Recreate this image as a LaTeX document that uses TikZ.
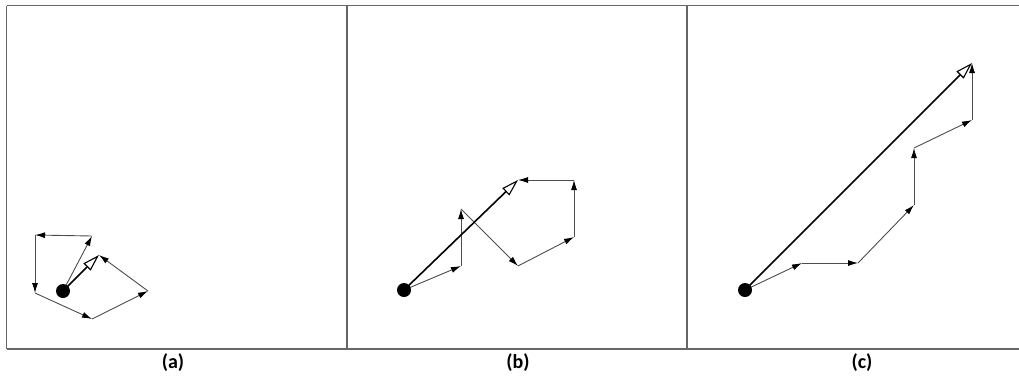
\documentclass[tikz,border=0pt]{standalone}
\usepackage{fontspec}
\setsansfont{Carlito}
\usetikzlibrary{arrows.meta}

\begin{document}
\begin{tikzpicture}[x=1pt,y=-1pt,
  frame/.style={draw=black!60,line width=1.4pt},
  vec/.style={draw=black!70,line width=0.9pt,-{Latex[length=10pt,width=6pt,color=black]}},
  res/.style={draw=black,line width=1.6pt,-{Triangle[length=17pt,width=10pt,fill=white,line width=1.1pt]}},
  dot/.style={circle,fill=black,inner sep=0pt,minimum size=14pt},
  lab/.style={font=\sffamily\bfseries\fontsize{20}{22}\selectfont}]
  \useasboundingbox (0,0) rectangle (1019,376);
  % frames
  \draw[frame] (6.5,5.7)--(1019,5.7); \draw[frame] (6.5,349)--(1019,349);
  \draw[frame] (6.5,5.7)--(6.5,349); \draw[frame] (347,5.7)--(347,349); \draw[frame] (687,5.7)--(687,349);
  % (a)
  \coordinate (A0) at (63,291); \coordinate (A1) at (92,236); \coordinate (A2) at (35,235);
  \coordinate (A3) at (35,293); \coordinate (A4) at (92,319); \coordinate (A5) at (148,291); \coordinate (A6) at (99,255);
  \draw[vec] (A0)--(A1); \draw[vec] (A1)--(A2); \draw[vec] (A2)--(A3);
  \draw[vec] (A3)--(A4); \draw[vec] (A4)--(A5); \draw[vec] (A5)--(A6);
  \draw[res] (A0)--(A6);
  \node[dot] (oa) at (A0) {};
  % (b)
  \coordinate (B0) at (404,290); \coordinate (B1) at (461,266); \coordinate (B2) at (461,209);
  \coordinate (B3) at (518,266); \coordinate (B4) at (574,237); \coordinate (B5) at (574,180); \coordinate (B6) at (518,180);
  \draw[vec] (B0)--(B1); \draw[vec] (B1)--(B2); \draw[vec] (B2)--(B3);
  \draw[vec] (B3)--(B4); \draw[vec] (B4)--(B5); \draw[vec] (B5)--(B6);
  \draw[res] (B0)--(B6);
  \node[dot] (ob) at (B0) {};
  % (c)
  \coordinate (C0) at (745,290); \coordinate (C1) at (802,263); \coordinate (C2) at (858,263);
  \coordinate (C3) at (914,205); \coordinate (C4) at (914,148); \coordinate (C5) at (972,120); \coordinate (C6) at (972,63);
  \draw[vec] (C0)--(C1); \draw[vec] (C1)--(C2); \draw[vec] (C2)--(C3);
  \draw[vec] (C3)--(C4); \draw[vec] (C4)--(C5); \draw[vec] (C5)--(C6);
  \draw[res] (C0)--(C6);
  \node[dot] (oc) at (C0) {};
  % labels
  \node[lab] (la) at (173,363) {(a)};
  \node[lab] (lb) at (518,363) {(b)};
  \node[lab] (lc) at (862,363) {(c)};
\end{tikzpicture}
\end{document}
